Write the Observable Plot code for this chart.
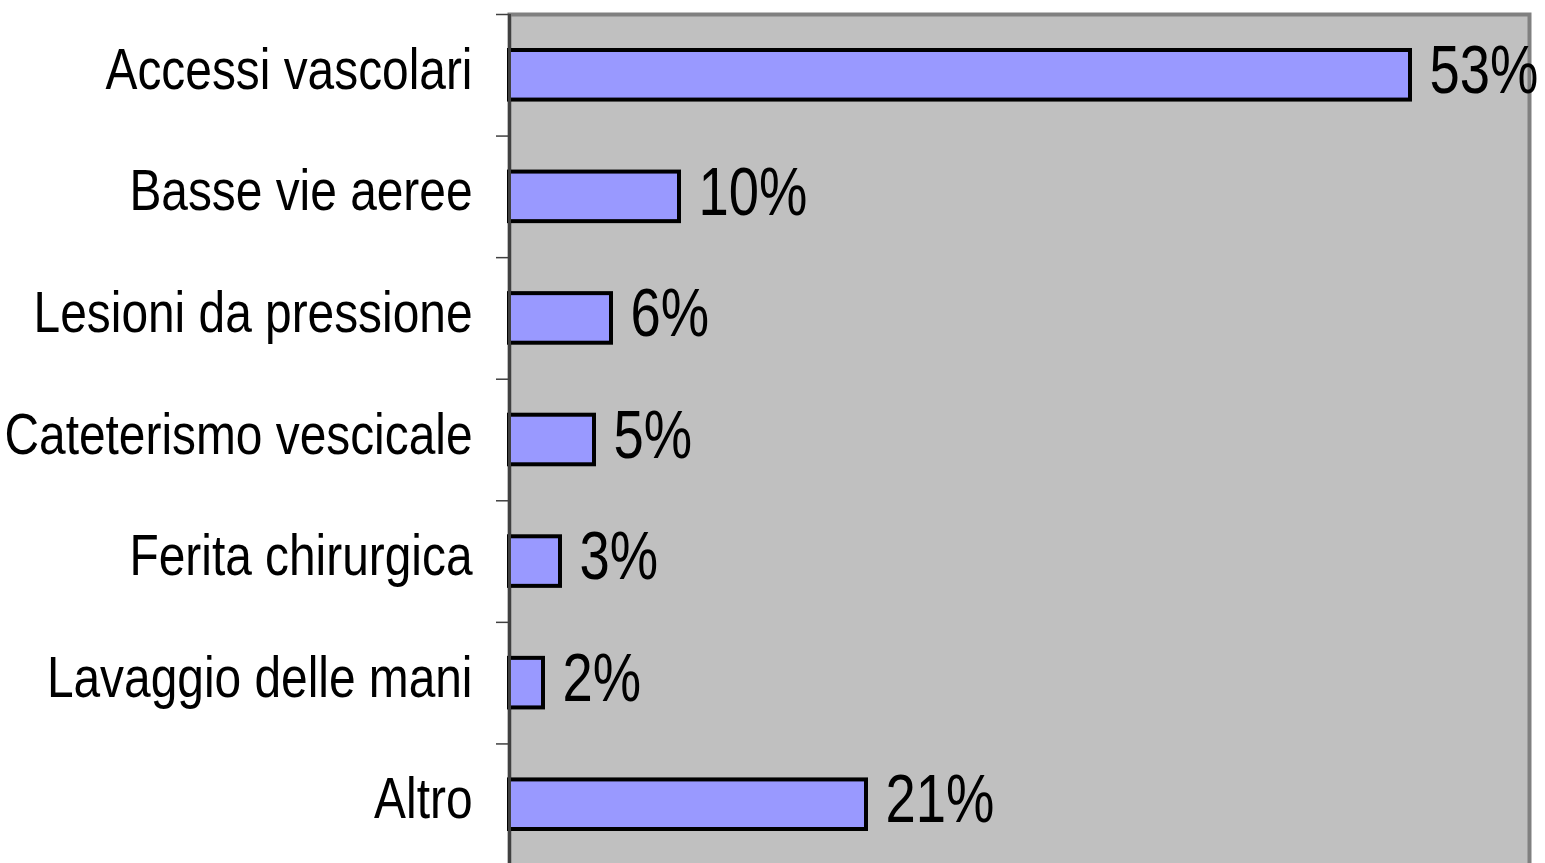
<!DOCTYPE html>
<html>
<head>
<meta charset="utf-8">
<script src="https://cdn.jsdelivr.net/npm/d3@7"></script>
<script src="https://cdn.jsdelivr.net/npm/@observablehq/plot@0.6"></script>
<style>
  html, body { margin: 0; padding: 0; background: #fff; overflow: hidden; }
  #chart svg { display: block; }
</style>
</head>
<body>
<div id="chart"></div>
<script>
const categories = ["Accessi vascolari", "Basse vie aeree", "Lesioni da pressione", "Cateterismo vescicale", "Ferita chirurgica", "Lavaggio delle mani", "Altro"];
const values = [53, 10, 6, 5, 3, 2, 21];
const valueLabels = ["53%", "10%", "6%", "5%", "3%", "2%", "21%"];

const data = categories.map((c, i) => ({idx: i, category: c, value: values[i], label: valueLabels[i]}));
const n = categories.length;
const boundaries = d3.range(0, n + 1);
const centers = d3.range(0, n).map(i => i + 0.5);

const font = "'Liberation Sans', Arial, sans-serif";

const chart = Plot.plot({
  width: 1545,
  height: 866,
  marginLeft: 509,
  marginRight: 16,
  marginTop: 14,
  marginBottom: 1,
  style: {fontFamily: font, background: "#fff", overflow: "visible"},
  x: {domain: [0, 60], axis: null},
  y: {domain: [0, n], reverse: true, axis: null, label: null},
  marks: [
    Plot.frame({fill: "#c0c0c0", stroke: "#808080", strokeWidth: 4}),
    Plot.rectX(data, {x1: 0, x2: "value", y1: d => d.idx, y2: d => d.idx + 1, insetTop: 36, insetBottom: 36, fill: "#9999ff", stroke: "#000", strokeWidth: 4}),
    Plot.ruleX([0], {stroke: "#404040", strokeWidth: 3}),
    Plot.axisY({ticks: boundaries, tickSize: 13, tickFormat: () => "", label: null, stroke: "#404040", strokeWidth: 1.5}),
    Plot.axisY({ticks: centers, tickSize: 0, tickPadding: 37, label: null, tickFormat: t => categories[Math.floor(t)], fontSize: 58, fill: "#000", dy: -5}),
    Plot.text(data, {x: "value", y: d => d.idx + 0.5, text: "label", textAnchor: "start", dx: 19, dy: -4, fontSize: 68, fill: "#000"})
  ]
});
document.getElementById("chart").appendChild(chart);

// Condense glyphs horizontally to mimic the narrow typeface of the original
function condense(selector, factor) {
  chart.querySelectorAll(selector).forEach(t => {
    const len = t.getComputedTextLength();
    if (len > 0) {
      t.setAttribute("textLength", (len * factor).toFixed(1));
      t.setAttribute("lengthAdjust", "spacingAndGlyphs");
    }
  });
}
condense('g[aria-label="y-axis tick label"] text', 0.825);
condense('g[aria-label="text"] text', 0.80);
</script>
</body>
</html>
